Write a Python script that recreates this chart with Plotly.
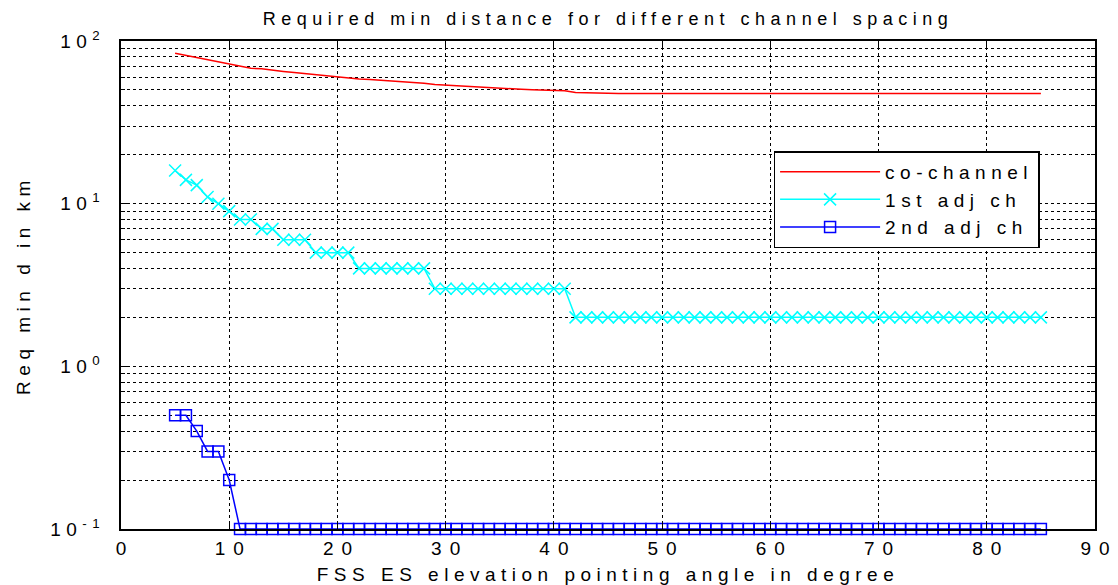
import plotly.graph_objects as go

# ---------------- data ----------------
angle_deg = list(range(5, 86))

co_channel = [
    84, 81.5, 79, 76.5, 74, 71.5, 70, 68, 67.5, 66,
    65, 64, 63, 62, 61, 60, 59.5, 58.5, 58, 57.5,
    57, 56, 55.5, 55, 54, 53.5, 53, 52.5, 52, 51.8,
    51.5, 51, 50.5, 50.2, 50, 50, 49.5, 48.3, 48, 47.8,
    47.5, 47.5, 47.5, 47.5, 47.5, 47.5, 47.5, 47.5, 47.5, 47.5,
    47.5, 47.5, 47.5, 47.5, 47.5, 47.5, 47.5, 47.5, 47.5, 47.5,
    47.5, 47.5, 47.5, 47.5, 47.5, 47.5, 47.5, 47.5, 47.5, 47.5,
    47.5, 47.5, 47.5, 47.5, 47.5, 47.5, 47.5, 47.5, 47.5, 47.5,
    47.5,
]

adj1 = [
    16, 14, 13, 11, 10, 9, 8, 8, 7, 7,
    6, 6, 6, 5, 5, 5, 5, 4, 4, 4,
    4, 4, 4, 4, 3, 3, 3, 3, 3, 3,
    3, 3, 3, 3, 3, 3, 3, 2, 2, 2,
    2, 2, 2, 2, 2, 2, 2, 2, 2, 2,
    2, 2, 2, 2, 2, 2, 2, 2, 2, 2,
    2, 2, 2, 2, 2, 2, 2, 2, 2, 2,
    2, 2, 2, 2, 2, 2, 2, 2, 2, 2,
    2,
]

adj2 = [
    0.5, 0.5, 0.4, 0.3, 0.3, 0.2, 0.1, 0.1, 0.1, 0.1,
    0.1, 0.1, 0.1, 0.1, 0.1, 0.1, 0.1, 0.1, 0.1, 0.1,
    0.1, 0.1, 0.1, 0.1, 0.1, 0.1, 0.1, 0.1, 0.1, 0.1,
    0.1, 0.1, 0.1, 0.1, 0.1, 0.1, 0.1, 0.1, 0.1, 0.1,
    0.1, 0.1, 0.1, 0.1, 0.1, 0.1, 0.1, 0.1, 0.1, 0.1,
    0.1, 0.1, 0.1, 0.1, 0.1, 0.1, 0.1, 0.1, 0.1, 0.1,
    0.1, 0.1, 0.1, 0.1, 0.1, 0.1, 0.1, 0.1, 0.1, 0.1,
    0.1, 0.1, 0.1, 0.1, 0.1, 0.1, 0.1, 0.1, 0.1, 0.1,
    0.1,
]

series_names = ["co-channel", "1st adj ch", "2nd adj ch"]

x_ticks = [0, 10, 20, 30, 40, 50, 60, 70, 80, 90]
y_decades = [0.1, 1, 10, 100]
y_decade_labels = ["10<sup>-1</sup>", "10<sup>0</sup>", "10<sup>1</sup>", "10<sup>2</sup>"]
y_minor_vals = [0.2, 0.3, 0.4, 0.5, 0.6, 0.7, 0.8, 0.9,
                2, 3, 4, 5, 6, 7, 8, 9,
                20, 30, 40, 50, 60, 70, 80, 90]

title_text = "Required min distance for different channel spacing"
x_title = "FSS ES elevation pointing angle in degree"
y_title = "Req min d in km"

# ---------------- figure ----------------
FONT = "Liberation Sans, Arial, sans-serif"

fig = go.Figure()
fig.add_trace(go.Scatter(
    x=angle_deg, y=co_channel, name=series_names[0], mode="lines",
    line=dict(color="#FF0000", width=1.5),
))
fig.add_trace(go.Scatter(
    x=angle_deg, y=adj1, name=series_names[1], mode="lines+markers",
    line=dict(color="#00FFFF", width=1.5),
    marker=dict(symbol="x-thin-open", size=12, color="#00FFFF",
                line=dict(color="#00FFFF", width=1.5)),
))
fig.add_trace(go.Scatter(
    x=angle_deg, y=adj2, name=series_names[2], mode="lines+markers",
    line=dict(color="#0000FF", width=1.5),
    marker=dict(symbol="square-open", size=11, color="#0000FF",
                line=dict(color="#0000FF", width=1.5)),
    cliponaxis=False,
))

fig.update_layout(
    width=1118, height=585,
    margin=dict(l=121, r=23, t=41, b=56, autoexpand=False),
    paper_bgcolor="white", plot_bgcolor="white",
    font=dict(family=FONT, color="black", size=18),
    title=dict(text=title_text, x=0.5, xref="paper", y=1 - 19 / 585,
               yanchor="middle", xanchor="center",
               font=dict(family=FONT, size=18, color="black")),
    showlegend=True,
    legend=dict(x=0.67, y=0.774, xanchor="left", yanchor="top",
                bgcolor="white", bordercolor="black", borderwidth=1.5,
                font=dict(family=FONT, size=19, color="black"),
                tracegroupgap=0, itemwidth=100),
)

fig.update_xaxes(
    range=[0, 90], tickvals=x_ticks, ticktext=[str(v) for v in x_ticks],
    showgrid=True, gridcolor="black", griddash="dot", gridwidth=1,
    showline=True, linecolor="black", linewidth=2, mirror="ticks",
    ticks="inside", ticklen=7, tickcolor="black", tickwidth=1,
    zeroline=False, tickfont=dict(size=19), automargin=False,
    ticklabelstandoff=1, ticklabelshift=4,
    title=dict(text=x_title, font=dict(size=19), standoff=11),
)
fig.update_yaxes(
    type="log", range=[-1, 2],
    tickmode="array", tickvals=y_decades, ticktext=y_decade_labels,
    showgrid=True, gridcolor="black", griddash="dot", gridwidth=1,
    showline=True, linecolor="black", linewidth=2, mirror="ticks",
    ticks="inside", ticklen=8, tickcolor="black", tickwidth=1,
    minor=dict(tickmode="array", tickvals=y_minor_vals, ticks="inside",
               ticklen=4, tickcolor="black", tickwidth=1,
               showgrid=True, gridcolor="black", griddash="dot", gridwidth=1),
    zeroline=False, tickfont=dict(size=19), automargin=False,
    ticklabelstandoff=10,
    title=dict(text=y_title, font=dict(size=19), standoff=15),
)

# Page without body margin, plus MATLAB-style wide character spacing;
# texts are re-measured afterwards so layout includes the spacing.
post_js = """
document.body.style.margin = '0';
document.body.style.overflow = 'hidden';
var st = document.createElement('style');
st.textContent = 'svg text { letter-spacing: 5.5px; } .xtick text { letter-spacing: 8px; }';
document.head.appendChild(st);
var gd = document.getElementById('{plot_id}');
return Plotly.relayout(gd, {
  'legend.font.size': 19.01,
  'xaxis.tickfont.size': 19.01,
  'yaxis.tickfont.size': 19.01,
  'xaxis.title.font.size': 19.01,
  'yaxis.title.font.size': 19.01,
  'title.font.size': 18.01
});
"""

fig.write_html("out.html", post_script=post_js,
               config={"displayModeBar": False})
